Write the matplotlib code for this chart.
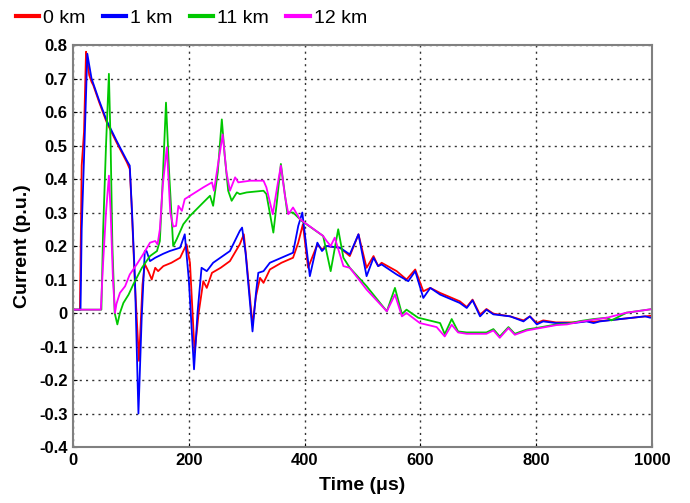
import matplotlib
matplotlib.use("Agg")
import matplotlib.pyplot as plt

plt.rcParams['font.family'] = ['Liberation Sans', 'DejaVu Sans']

# 0 km
t_0km = [0, 12, 14, 15, 19, 22.5, 25, 28, 32, 35, 45, 58, 75, 93, 98, 101, 107, 114, 120, 124,
         130, 136, 142, 147, 156, 170, 185, 196, 202, 210, 217, 225, 231, 240, 255, 271, 288,
         295, 300, 310, 316, 323, 329, 340, 360, 380, 389, 397, 406, 422, 430, 438, 461, 478,
         493, 507, 519, 527, 533, 559, 576, 591, 605, 617, 634, 668, 680, 690, 703, 714, 726,
         755, 778, 789, 801, 812, 834, 864, 887, 899, 910, 956, 988, 1000]
i_0km = [0.01, 0.01, 0.3, 0.44, 0.54, 0.78, 0.75, 0.71, 0.69, 0.68, 0.63, 0.57, 0.51, 0.45,
         0.43, 0.33, 0.085, -0.143, 0.085, 0.146, 0.125, 0.10, 0.135, 0.125, 0.14, 0.15, 0.165,
         0.205, 0.15, -0.118, 0.0, 0.095, 0.075, 0.12, 0.135, 0.155, 0.205, 0.235, 0.15, -0.035,
         0.05, 0.105, 0.09, 0.13, 0.15, 0.165, 0.21, 0.265, 0.135, 0.205, 0.19, 0.20, 0.195,
         0.17, 0.235, 0.135, 0.17, 0.14, 0.15, 0.125, 0.10, 0.13, 0.065, 0.075, 0.06, 0.035,
         0.018, 0.04, -0.005, 0.012, -0.002, -0.01, -0.022, -0.01, -0.03, -0.022, -0.028,
         -0.028, -0.024, -0.026, -0.024, -0.016, -0.01, -0.008]

# 1 km
t_1km = [0, 13, 15, 20.5, 24.7, 28, 32, 35, 45, 58, 75, 93, 98, 102, 107, 113, 118.6, 124, 127,
         133, 142, 156, 167, 185, 193, 200, 209, 215, 222, 231, 242, 271, 288, 292, 298, 310,
         316, 320, 329, 340, 380, 389, 396, 409, 422, 430, 438, 461, 478, 493, 507, 519, 527,
         533, 559, 579, 591, 605, 617, 634, 668, 680, 690, 703, 714, 726, 755, 778, 789, 801,
         812, 834, 864, 887, 899, 910, 956, 988, 997, 1000]
i_1km = [0.01, 0.01, 0.25, 0.54, 0.774, 0.74, 0.70, 0.685, 0.635, 0.575, 0.515, 0.455, 0.44,
         0.3, 0.1, -0.30, -0.015, 0.185, 0.185, 0.155, 0.165, 0.177, 0.185, 0.195, 0.235, 0.1,
         -0.168, 0.0, 0.135, 0.125, 0.15, 0.185, 0.245, 0.255, 0.18, -0.055, 0.06, 0.12, 0.125,
         0.15, 0.18, 0.26, 0.30, 0.11, 0.21, 0.185, 0.20, 0.195, 0.175, 0.235, 0.11, 0.165,
         0.14, 0.145, 0.115, 0.095, 0.125, 0.045, 0.075, 0.055, 0.03, 0.015, 0.038, -0.01,
         0.01, -0.004, -0.01, -0.025, -0.01, -0.034, -0.025, -0.03, -0.03, -0.025, -0.03,
         -0.025, -0.016, -0.01, -0.014, -0.012]

# 11 km
t_11km = [0, 49, 52, 57, 62, 65, 68, 72, 76.6, 81, 87, 96, 104, 119, 133, 145, 150, 155, 160.6,
          166, 173, 179, 190.5, 202, 225, 236.6, 242, 250, 257, 262, 268, 274, 283, 288, 300,
          329, 334, 346, 352, 359, 370, 380, 395, 432, 445, 458, 467, 478, 507, 542, 556, 568,
          576, 596, 634, 642, 654, 665, 680, 714, 726, 737, 752, 763, 784, 803, 835, 853, 876,
          899, 922, 930, 956, 997, 1000]
i_11km = [0.01, 0.01, 0.245, 0.5, 0.714, 0.5, 0.2, 0.0, -0.034, 0.0, 0.03, 0.055, 0.085, 0.135,
          0.17, 0.185, 0.215, 0.4, 0.628, 0.42, 0.2, 0.22, 0.265, 0.29, 0.33, 0.35, 0.32, 0.42,
          0.578, 0.47, 0.365, 0.335, 0.36, 0.355, 0.36, 0.365, 0.355, 0.24, 0.33, 0.445, 0.30,
          0.30, 0.275, 0.23, 0.125, 0.25, 0.165, 0.135, 0.08, 0.005, 0.075, -0.003, 0.01,
          -0.014, -0.03, -0.063, -0.018, -0.055, -0.058, -0.058, -0.048, -0.07, -0.042, -0.062,
          -0.049, -0.044, -0.034, -0.032, -0.024, -0.018, -0.014, -0.022, 0.001, 0.011, 0.012]

# 12 km
t_12km = [0, 48, 52, 57, 62, 65, 69, 72.5, 75, 81, 90, 98, 110, 121, 133, 142, 146, 150, 155,
          162, 168, 173, 178, 182, 188, 193, 225, 240, 243.5, 251, 258.5, 265, 271, 280, 285.5,
          306, 329, 334, 345, 352, 359, 366, 372, 380, 392, 432, 438, 445, 452, 467, 478, 507,
          542, 556, 568, 576, 599, 628, 642, 654, 665, 680, 714, 726, 737, 752, 763, 784, 803,
          835, 853, 876, 899, 922, 956, 997, 1000]
i_12km = [0.01, 0.01, 0.15, 0.3, 0.41, 0.3, 0.1, 0.0, 0.027, 0.06, 0.08, 0.115, 0.145, 0.175,
          0.21, 0.215, 0.205, 0.25, 0.38, 0.495, 0.3, 0.258, 0.26, 0.32, 0.305, 0.34, 0.375,
          0.39, 0.365, 0.45, 0.533, 0.42, 0.365, 0.405, 0.39, 0.395, 0.395, 0.375, 0.295, 0.37,
          0.44, 0.35, 0.295, 0.315, 0.28, 0.23, 0.215, 0.2, 0.225, 0.14, 0.135, 0.07, 0.005,
          0.055, -0.01, 0.0, -0.03, -0.042, -0.07, -0.035, -0.058, -0.062, -0.062, -0.052,
          -0.074, -0.045, -0.065, -0.052, -0.046, -0.036, -0.034, -0.026, -0.02, -0.014, 0.001,
          0.011, 0.012]

labels = ['0 km', '1 km', '11 km', '12 km']
colors = ['#ff0000', '#0000ff', '#00c800', '#ff00ff']

fig = plt.figure(figsize=(6.9, 5.03), dpi=100)
ax = fig.add_axes([0.1058, 0.1113, 0.8392, 0.7992])

series = [(t_0km, i_0km), (t_1km, i_1km), (t_11km, i_11km), (t_12km, i_12km)]
for (t, i), lab, c in zip(series, labels, colors):
    ax.plot(t, i, color=c, lw=1.3, label=lab)

ax.set_xlim(0, 1000)
ax.set_ylim(-0.4, 0.8)
ax.set_xticks([0, 200, 400, 600, 800, 1000])
ax.set_yticks([-0.4, -0.3, -0.2, -0.1, 0, 0.1, 0.2, 0.3, 0.4, 0.5, 0.6, 0.7, 0.8])
ax.set_yticklabels(['-0.4', '-0.3', '-0.2', '-0.1', '0', '0.1', '0.2', '0.3', '0.4', '0.5',
                    '0.6', '0.7', '0.8'])
ax.grid(True, color='#333333', linestyle=(0, (1.5, 3)), lw=1.0)
ax.tick_params(length=3, direction='in', labelsize=12, pad=4)
for lbl in ax.get_xticklabels() + ax.get_yticklabels():
    lbl.set_fontweight('bold')
for s in ax.spines.values():
    s.set_color('#808080')
    s.set_linewidth(1.5)

ax.set_xlabel('Time (μs)', fontsize=14, fontweight='bold', labelpad=7)
ax.set_ylabel('Current (p.u.)', fontsize=14, fontweight='bold', labelpad=6)

fig.legend(loc='upper left', bbox_to_anchor=(0.006, 1.005), ncol=4, frameon=False,
           fontsize=14, handlelength=1.2, handletextpad=0.2, columnspacing=0.9,
           borderaxespad=0.2)
for h in fig.legends[0].legend_handles:
    h.set_linewidth(3)

fig.savefig('out.png', dpi=100)
